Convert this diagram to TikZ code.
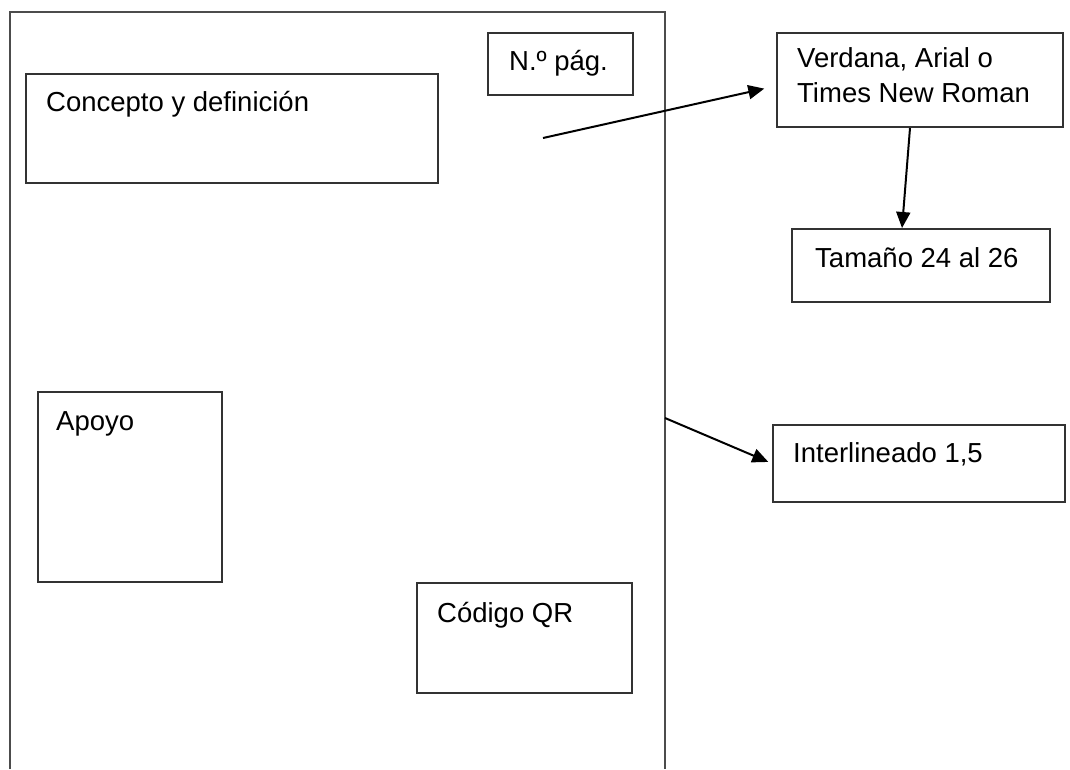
\documentclass[tikz,border=0pt]{standalone}
\usepackage{fontspec}
\setmainfont{Liberation Sans}
\usetikzlibrary{arrows.meta}

\begin{document}
\begin{tikzpicture}[x=1pt,y=-1pt,
    box/.style={draw=black!80,line width=2pt,inner sep=0pt},
    txt/.style={anchor=base west,inner sep=0pt,font=\fontsize{27.5}{35}\selectfont},
    arr/.style={line width=2pt,-{Triangle[length=16pt,width=14pt]}}]
      \useasboundingbox (0,0) rectangle (1070,769);
      \fill[white] (0,0) rectangle (1070,769);

      \draw[black!70,line width=2pt] (10,769) -- (10,12) -- (665,12) -- (665,769);

      \node[box,minimum width=412pt,minimum height=109pt] (concepto) at (232,128.5) {};
      \node[box,minimum width=145pt,minimum height=62pt] (pag) at (560.5,64) {};
      \node[box,minimum width=286pt,minimum height=94pt] (verdana) at (920,80) {};
      \node[box,minimum width=258pt,minimum height=73pt] (tamano) at (921,265.5) {};
      \node[box,minimum width=292pt,minimum height=77pt] (interlin) at (919,463.5) {};
      \node[box,minimum width=184pt,minimum height=190pt] (apoyo) at (130,487) {};
      \node[box,minimum width=215pt,minimum height=110pt] (qr) at (524.5,638) {};

      \node[txt] (tconcepto) at (46,111) {Concepto y definición};
      \node[txt] (tpag) at (509,70) {N.º pág.};
      \node[txt,anchor=north west,align=left] (tverdana) at (797,47.5) {Verdana, Arial o\\Times New Roman};
      \node[txt] (ttamano) at (815,267) {Tamaño 24 al 26};
      \node[txt] (tinterlin) at (793,462) {Interlineado 1,5};
      \node[txt] (tapoyo) at (56,430) {Apoyo};
      \node[txt] (tqr) at (437,622) {Código QR};

      \coordinate (fuente) at (543,138);
      \coordinate (margen) at (665,418);

      \draw[arr,shorten >=12pt] (fuente) -- ([yshift=-6pt]verdana.west);
      \draw[arr] ([xshift=-10pt]verdana.south) -- ([xshift=-19pt]tamano.north);
      \draw[arr,shorten >=4pt] (margen) -- (interlin.west);
    \end{tikzpicture}
\end{document}
